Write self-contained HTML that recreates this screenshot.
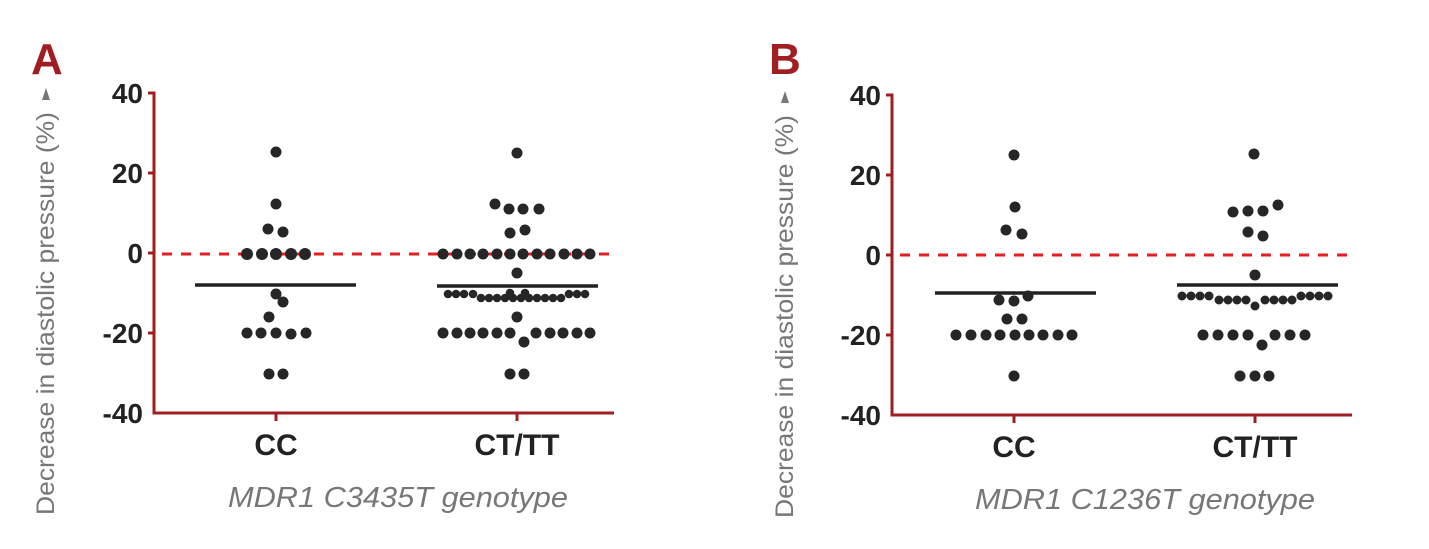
<!DOCTYPE html>
<html><head><meta charset="utf-8"><style>body{margin:0;background:#fff}svg{display:block}</style></head><body>
<svg width="1429" height="549" viewBox="0 0 1429 549" xmlns="http://www.w3.org/2000/svg" font-family="Liberation Sans, Arial, sans-serif">
<rect width="1429" height="549" fill="#fff"/>
<!-- Panel A -->
<text x="31" y="74" font-size="44" font-weight="bold" fill="#a01e22">A</text>
<text transform="translate(54,515) rotate(-90)" font-size="25" fill="#777" textLength="403" lengthAdjust="spacingAndGlyphs">Decrease in diastolic pressure (%)</text>
<polygon points="42,100 50,100 46,88" fill="#777"/>
<g fill="none" stroke="#a01e22" stroke-width="3">
<path d="M148,93H154V413H614"/>
<path d="M148,173H154M148,253H154M148,333H154M276,413V421M517,413V421"/>
</g>
<g font-size="28" font-weight="bold" fill="#222" text-anchor="end">
<text x="143" y="103">40</text><text x="143" y="183">20</text><text x="143" y="263">0</text><text x="143" y="343">-20</text><text x="143" y="423">-40</text>
</g>
<line x1="162" y1="254" x2="614" y2="254" stroke="#e31e24" stroke-width="3" stroke-dasharray="10,9"/>
<g font-size="30" font-weight="bold" fill="#222" text-anchor="middle"><text x="276" y="455">CC</text><text x="517" y="455">CT/TT</text></g>
<text x="228" y="507" font-size="29" font-style="italic" fill="#777" textLength="340" lengthAdjust="spacingAndGlyphs">MDR1 C3435T genotype</text>
<g stroke="#222" stroke-width="3.5"><line x1="195" y1="285" x2="356" y2="285"/><line x1="437" y1="286" x2="598" y2="286"/></g>
<g fill="#262626">
<circle cx="276" cy="152" r="5.5"/><circle cx="276" cy="204" r="5.5"/><circle cx="268" cy="229" r="5.5"/><circle cx="283" cy="232" r="5.5"/>
<circle cx="247" cy="254" r="6"/><circle cx="262" cy="254" r="6"/><circle cx="276" cy="254" r="6"/><circle cx="291" cy="254" r="6"/><circle cx="305" cy="254" r="6"/>
<circle cx="276" cy="294" r="5.5"/><circle cx="283" cy="302" r="5.5"/><circle cx="269" cy="317" r="5.5"/>
<circle cx="247" cy="333" r="5.5"/><circle cx="261" cy="333" r="5.5"/><circle cx="276" cy="333" r="5.5"/><circle cx="291" cy="334" r="5.5"/><circle cx="306" cy="333" r="5.5"/>
<circle cx="269" cy="374" r="5.5"/><circle cx="283" cy="374" r="5.5"/>
<circle cx="517" cy="153" r="5.5"/><circle cx="495" cy="204" r="5.5"/><circle cx="509" cy="209" r="5.5"/><circle cx="523" cy="209" r="5.5"/><circle cx="539" cy="209" r="5.5"/><circle cx="510" cy="233" r="5.5"/><circle cx="525" cy="230" r="5.5"/>
<circle cx="443" cy="254" r="5.5"/><circle cx="457" cy="254" r="5.5"/><circle cx="470" cy="254" r="5.5"/><circle cx="483" cy="254" r="5.5"/><circle cx="497" cy="254" r="5.5"/><circle cx="510" cy="254" r="5.5"/><circle cx="523" cy="254" r="5.5"/><circle cx="537" cy="254" r="5.5"/><circle cx="550" cy="254" r="5.5"/><circle cx="564" cy="254" r="5.5"/><circle cx="577" cy="254" r="5.5"/><circle cx="590" cy="254" r="5.5"/>
<circle cx="517" cy="273" r="5.5"/>
<circle cx="448" cy="294" r="4.3"/><circle cx="456" cy="294" r="4.3"/><circle cx="464" cy="294" r="4.3"/><circle cx="473" cy="294" r="4.3"/>
<circle cx="481" cy="298" r="4.3"/><circle cx="489" cy="298" r="4.3"/><circle cx="497" cy="298" r="4.3"/><circle cx="505" cy="298" r="4.3"/><circle cx="513" cy="298" r="4.3"/><circle cx="521" cy="298" r="4.3"/><circle cx="529" cy="298" r="4.3"/><circle cx="537" cy="298" r="4.3"/><circle cx="545" cy="298" r="4.3"/><circle cx="553" cy="298" r="4.3"/><circle cx="561" cy="298" r="4.3"/>
<circle cx="510" cy="293" r="4.3"/><circle cx="525" cy="293" r="4.3"/>
<circle cx="569" cy="294" r="4.3"/><circle cx="577" cy="294" r="4.3"/><circle cx="585" cy="294" r="4.3"/>
<circle cx="517" cy="317" r="5.5"/>
<circle cx="443" cy="333" r="5.5"/><circle cx="457" cy="333" r="5.5"/><circle cx="470" cy="333" r="5.5"/><circle cx="483" cy="333" r="5.5"/><circle cx="497" cy="333" r="5.5"/><circle cx="510" cy="333" r="5.5"/><circle cx="536" cy="333" r="5.5"/><circle cx="550" cy="333" r="5.5"/><circle cx="563" cy="333" r="5.5"/><circle cx="577" cy="333" r="5.5"/><circle cx="590" cy="333" r="5.5"/>
<circle cx="524" cy="342" r="5.5"/><circle cx="510" cy="374" r="5.5"/><circle cx="524" cy="374" r="5.5"/>
</g>
<!-- Panel B -->
<text x="769" y="74" font-size="44" font-weight="bold" fill="#a01e22">B</text>
<text transform="translate(793,518) rotate(-90)" font-size="25" fill="#777" textLength="403" lengthAdjust="spacingAndGlyphs">Decrease in diastolic pressure (%)</text>
<polygon points="781,103 789,103 785,91" fill="#777"/>
<g fill="none" stroke="#a01e22" stroke-width="3">
<path d="M886,95H892V415H1352"/>
<path d="M886,175H892M886,255H892M886,335H892M1014,415V423M1255,415V423"/>
</g>
<g font-size="28" font-weight="bold" fill="#222" text-anchor="end">
<text x="881" y="105">40</text><text x="881" y="185">20</text><text x="881" y="265">0</text><text x="881" y="345">-20</text><text x="881" y="425">-40</text>
</g>
<line x1="900" y1="255" x2="1352" y2="255" stroke="#e31e24" stroke-width="3" stroke-dasharray="10,9"/>
<g font-size="30" font-weight="bold" fill="#222" text-anchor="middle"><text x="1014" y="457">CC</text><text x="1255" y="457">CT/TT</text></g>
<text x="975" y="509" font-size="29" font-style="italic" fill="#777" textLength="340" lengthAdjust="spacingAndGlyphs">MDR1 C1236T genotype</text>
<g stroke="#222" stroke-width="3.5"><line x1="935" y1="293" x2="1096" y2="293"/><line x1="1177" y1="285" x2="1338" y2="285"/></g>
<g fill="#262626">
<circle cx="1014" cy="155" r="5.5"/><circle cx="1015" cy="207" r="5.5"/><circle cx="1006" cy="230" r="5.5"/><circle cx="1022" cy="234" r="5.5"/>
<circle cx="999" cy="300" r="5.5"/><circle cx="1014" cy="301" r="5.5"/><circle cx="1028" cy="296" r="5.5"/>
<circle cx="1007" cy="319" r="5.5"/><circle cx="1022" cy="319" r="5.5"/>
<circle cx="956" cy="335" r="5.5"/><circle cx="971" cy="335" r="5.5"/><circle cx="986" cy="335" r="5.5"/><circle cx="1000" cy="335" r="5.5"/><circle cx="1015" cy="335" r="5.5"/><circle cx="1029" cy="335" r="5.5"/><circle cx="1043" cy="335" r="5.5"/><circle cx="1058" cy="335" r="5.5"/><circle cx="1072" cy="335" r="5.5"/>
<circle cx="1014" cy="376" r="5.5"/>
<circle cx="1254" cy="154" r="5.5"/><circle cx="1233" cy="212" r="5.5"/><circle cx="1248" cy="211" r="5.5"/><circle cx="1263" cy="211" r="5.5"/><circle cx="1278" cy="205" r="5.5"/><circle cx="1248" cy="232" r="5.5"/><circle cx="1263" cy="236" r="5.5"/><circle cx="1255" cy="275" r="5.5"/>
<circle cx="1182" cy="296" r="4.5"/><circle cx="1191" cy="296" r="4.5"/><circle cx="1200" cy="296" r="4.5"/><circle cx="1209" cy="296" r="4.5"/>
<circle cx="1219" cy="300" r="4.5"/><circle cx="1228" cy="300" r="4.5"/><circle cx="1237" cy="300" r="4.5"/><circle cx="1246" cy="300" r="4.5"/><circle cx="1255" cy="306" r="4.5"/><circle cx="1265" cy="300" r="4.5"/><circle cx="1274" cy="300" r="4.5"/><circle cx="1283" cy="300" r="4.5"/><circle cx="1292" cy="300" r="4.5"/>
<circle cx="1301" cy="296" r="4.5"/><circle cx="1310" cy="296" r="4.5"/><circle cx="1319" cy="296" r="4.5"/><circle cx="1328" cy="296" r="4.5"/>
<circle cx="1203" cy="335" r="5.5"/><circle cx="1218" cy="335" r="5.5"/><circle cx="1233" cy="335" r="5.5"/><circle cx="1248" cy="335" r="5.5"/><circle cx="1262" cy="345" r="5.5"/><circle cx="1275" cy="335" r="5.5"/><circle cx="1290" cy="335" r="5.5"/><circle cx="1305" cy="335" r="5.5"/>
<circle cx="1240" cy="376" r="5.5"/><circle cx="1255" cy="376" r="5.5"/><circle cx="1269" cy="376" r="5.5"/>
</g>
</svg>
</body></html>
